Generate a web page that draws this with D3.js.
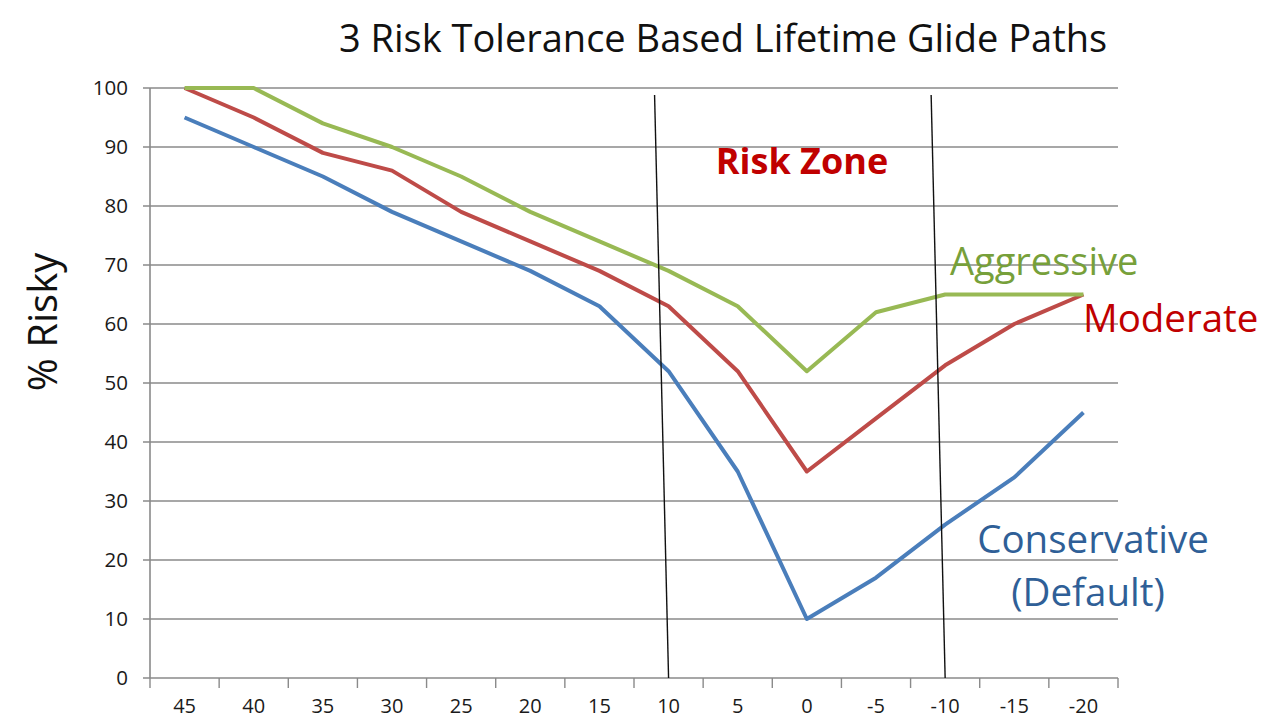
<!DOCTYPE html>
<html><head><meta charset="utf-8">
<script src="https://cdn.jsdelivr.net/npm/d3@7"></script>
<style>body{margin:0;background:#fff;} svg{display:block;}</style>
</head><body>
<svg id="c" width="1280" height="720"></svg>
<script>
const categories = ["45","40","35","30","25","20","15","10","5","0","-5","-10","-15","-20"];
const conservative = [95,90,85,79,74,69,63,52,35,10,17,26,34,45];
const moderate     = [100,95,89,86,79,74,69,63,52,35,44,53,60,65];
const aggressive   = [100,100,94,90,85,79,74,69,63,52,62,65,65,65];
const yTicks = [0,10,20,30,40,50,60,70,80,90,100];
const zoneBounds = ["10","-10"];

const svg = d3.select("#c");
const L=150,R=1118,T=88,B=678;
const x = d3.scaleBand().domain(categories).range([L,R]);
const y = d3.scaleLinear().domain([0,100]).range([B,T]);
const cx = c => x(c)+x.bandwidth()/2;
const font="'Open Sans',Lato,sans-serif";

// gridlines
svg.append("g").selectAll("line").data(yTicks).join("line")
  .attr("x1",L-7).attr("x2",R).attr("y1",d=>y(d)).attr("y2",d=>y(d))
  .attr("stroke","#8a8a8a").attr("stroke-width",1.6);
// y axis line
svg.append("line").attr("x1",L).attr("x2",L).attr("y1",T).attr("y2",B)
  .attr("stroke","#8a8a8a").attr("stroke-width",1.6);
// x axis ticks
const bounds = categories.map(c=>x(c)).concat([R]);
svg.append("g").selectAll("line").data(bounds).join("line")
  .attr("x1",d=>d).attr("x2",d=>d).attr("y1",B).attr("y2",B+10)
  .attr("stroke","#8a8a8a").attr("stroke-width",1.4);

// y labels
svg.append("g").selectAll("text").data(yTicks).join("text")
  .attr("x",L-22).attr("y",d=>y(d)).attr("dy","0.36em").attr("text-anchor","end")
  .attr("font-family",font).attr("font-size",20.5).attr("fill","#1a1a1a").text(d=>d);
// x labels
svg.append("g").selectAll("text").data(categories).join("text")
  .attr("x",d=>cx(d)).attr("y",B+35).attr("text-anchor","middle")
  .attr("font-family",font).attr("font-size",20).attr("fill","#1a1a1a").text(d=>d);

// series
const line = d3.line().x((d,i)=>cx(categories[i])).y(d=>y(d));
const series = [
  {v:conservative,c:"#4a7ebb"},
  {v:moderate,c:"#be4b48"},
  {v:aggressive,c:"#98b954"}
];
svg.append("g").selectAll("path").data(series).join("path")
  .attr("d",d=>line(d.v)).attr("fill","none").attr("stroke",d=>d.c)
  .attr("stroke-width",4).attr("stroke-linejoin","round");

// risk zone lines
svg.append("g").selectAll("line").data(zoneBounds).join("line")
  .attr("x1",d=>cx(d)-14).attr("y1",T+7).attr("x2",d=>cx(d)).attr("y2",B)
  .attr("stroke","#111").attr("stroke-width",1.4);

// title
svg.append("text").attr("x",723).attr("y",52).attr("text-anchor","middle")
  .attr("font-family",font).attr("font-size",38).attr("fill","#111")
  .text("3 Risk Tolerance Based Lifetime Glide Paths");
// y title
svg.append("text").attr("transform","translate(57,322) rotate(-90)").attr("text-anchor","middle")
  .attr("font-family",font).attr("font-size",40).attr("fill","#111").text("% Risky");

// annotations
svg.append("text").attr("x",802).attr("y",y(85.4)).attr("text-anchor","middle")
  .attr("font-family",font).attr("font-weight","bold").attr("font-size",36).attr("fill","#c00000").text("Risk Zone");
svg.append("text").attr("x",950).attr("y",y(68.3)).attr("font-family",font).attr("font-size",38).attr("fill","#77a03a").text("Aggressive");
svg.append("text").attr("x",1083).attr("y",y(58.7)).attr("font-family",font).attr("font-size",38.5).attr("fill","#c00000").text("Moderate");
svg.append("text").attr("x",1093).attr("y",y(21.2)).attr("text-anchor","middle").attr("font-family",font).attr("font-size",38.5).attr("fill","#2f5f97").text("Conservative");
svg.append("text").attr("x",1088).attr("y",y(12.2)).attr("text-anchor","middle").attr("font-family",font).attr("font-size",38.5).attr("fill","#2f5f97").text("(Default)");
</script>
</body></html>
